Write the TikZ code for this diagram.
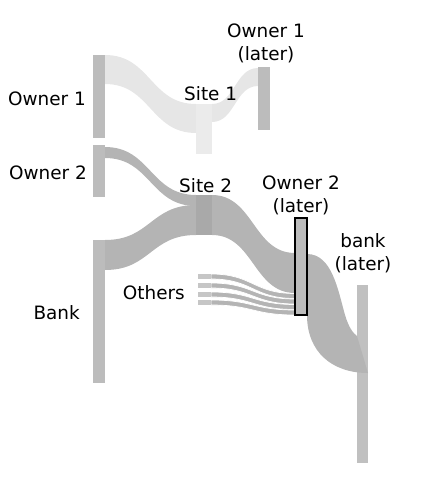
\documentclass[tikz,border=0pt]{standalone}
\usepackage{fontspec}
\setmainfont{DejaVu Sans}
\usetikzlibrary{calc}
\definecolor{bargrey}{HTML}{BCBCBC}
\definecolor{lightflow}{HTML}{E6E6E6}
\definecolor{siteone}{HTML}{EBEBEB}
\definecolor{darkflow}{HTML}{B4B4B4}
\definecolor{sitetwo}{HTML}{A9A9A9}
\definecolor{othcol}{HTML}{C6C6C6}
\definecolor{banklater}{HTML}{C0C0C0}
\pgfdeclarelayer{bg}
\pgfsetlayers{bg,main}
% band: #1 style, #2 source top, #3 source thickness, #4 target top, #5 target thickness
\newcommand\band[5]{%
  \fill[#1] let \p1=#2, \p2=#4, \n1={0.5*(\x1+\x2)} in
    (\x1,\y1) .. controls ({\n1*1pt},\y1) and ({\n1*1pt},\y2) .. (\x2,\y2)
    -- (\x2,{\y2-#5pt}) .. controls ({\n1*1pt},{\y2-#5pt}) and ({\n1*1pt},{\y1-#3pt}) .. (\x1,{\y1-#3pt}) -- cycle;}
\begin{document}
\begin{tikzpicture}[x=1pt,y=-1pt,
  lbl/.style={font=\fontsize{18.4}{23}\selectfont, inner sep=0pt, text=black},
  bar/.style={fill=bargrey, draw=none, inner sep=0pt, outer sep=0pt, anchor=north west},
  othflow/.style={fill=darkflow, draw=white, line width=0.7pt}]
\useasboundingbox (0,0) rectangle (421,490);
% bars
\node[bar, minimum width=12pt, minimum height=83pt] (o1) at (93,55) {};
\node[bar, minimum width=12pt, minimum height=52pt] (o2) at (93,145) {};
\node[bar, minimum width=12pt, minimum height=143pt] (bk) at (93,240) {};
\node[bar, fill=siteone, minimum width=16pt, minimum height=50pt] (s1) at (196,104) {};
\node[bar, minimum width=12pt, minimum height=63pt] (o1l) at (258,67) {};
\node[bar, fill=sitetwo, minimum width=16pt, minimum height=40pt] (s2) at (196,195) {};
\node[bar, fill=othcol, minimum width=13pt, minimum height=5pt] (ot1) at (198,274) {};
\node[bar, fill=othcol, minimum width=13pt, minimum height=5pt] (ot2) at (198,283) {};
\node[bar, fill=othcol, minimum width=13pt, minimum height=5pt] (ot3) at (198,292) {};
\node[bar, fill=othcol, minimum width=13pt, minimum height=5pt] (ot4) at (198,300) {};
\node[bar, draw=black, line width=1.2pt, minimum width=12pt, minimum height=97pt] (o2l) at (295,218) {};
% flows
\begin{pgfonlayer}{bg}
\node[bar, fill=banklater, minimum width=11pt, minimum height=178pt] (bkl) at (357,285) {};
\band{lightflow}{(o1.north east)}{29}{(s1.north west)}{29}
\band{lightflow}{(s1.north east)}{18}{([yshift=-1pt]o1l.north west)}{18}
\band{darkflow}{([yshift=-2pt]o2.north east)}{11}{(s2.north west)}{11}
\band{darkflow}{(bk.north east)}{30}{([yshift=-10pt]s2.north west)}{30}
\band{darkflow}{(s2.north east)}{40}{([yshift=-35pt]o2l.north west)}{40}
\band{othflow}{(ot1.north east)}{5}{([yshift=-75.5pt]o2l.north west)}{5}
\band{othflow}{(ot2.north east)}{5}{([yshift=-81pt]o2l.north west)}{5}
\band{othflow}{(ot3.north east)}{5}{([yshift=-86.5pt]o2l.north west)}{5}
\band{othflow}{(ot4.north east)}{5}{([yshift=-92pt]o2l.north west)}{5}
\fill[darkflow] (307,254) .. controls (332,254) and (338,290) .. (345,315)
  .. controls (349,328) and (353,333) .. (357,336) -- (368,373)
  .. controls (332,373) and (307,352) .. (307,315) -- cycle;
\end{pgfonlayer}
% labels
\node[lbl, anchor=base east] (lo1) at (86,105) {Owner 1};
\node[lbl, anchor=base east] (lo2) at (87,179) {Owner 2};
\node[lbl, anchor=base east] (lbk) at (80,319) {Bank};
\node[lbl, anchor=base west] (ls1) at (184,100) {Site 1};
\node[lbl, anchor=base west] (ls2) at (179,192) {Site 2};
\node[lbl, anchor=base east] (lot) at (185,299) {Others};
\node[lbl, anchor=north, align=center] (lo1l) at (266,24) {Owner 1\\(later)};
\node[lbl, anchor=north, align=center] (lo2l) at (301,176) {Owner 2\\(later)};
\node[lbl, anchor=north, align=center] (lbkl) at (363,233) {bank\\(later)};
\end{tikzpicture}
\end{document}
